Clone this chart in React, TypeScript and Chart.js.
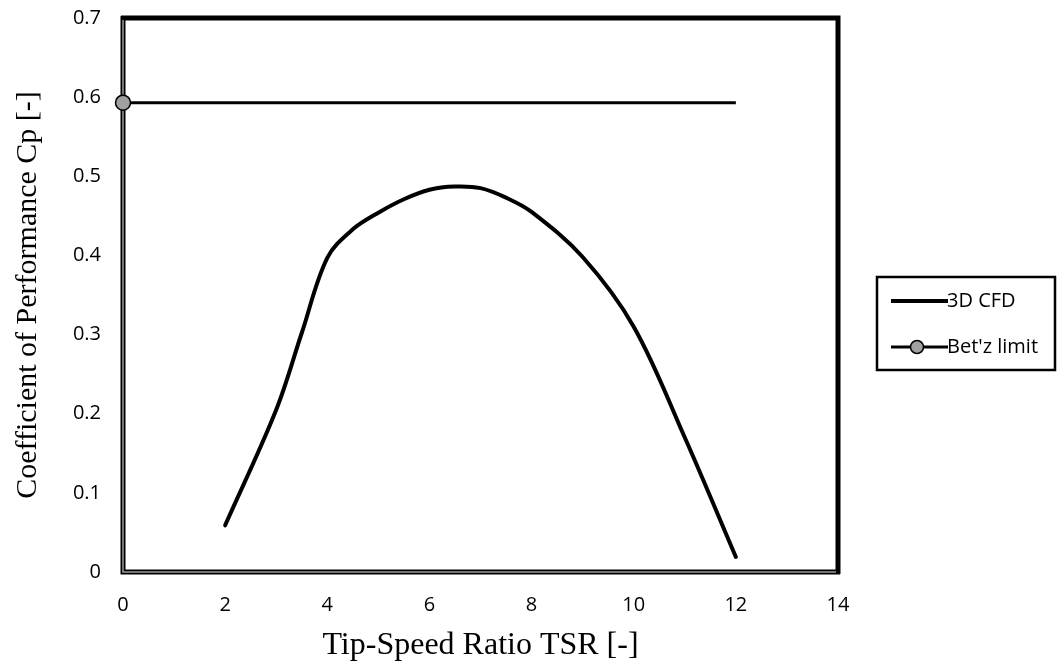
import React, { useEffect, useRef } from "react";
import { Chart, registerables } from "chart.js";

Chart.register(...registerables);

const tsr = [2, 3, 3.5, 4, 4.5, 5, 5.5, 6, 6.5, 7, 7.5, 8, 9, 10, 11, 12];
const cfdCp = [0.059, 0.205, 0.302, 0.397, 0.433, 0.454, 0.471, 0.483, 0.487, 0.485, 0.473, 0.455, 0.398, 0.31, 0.17, 0.019];
const betzX = [0, 12];
const betzY = [0.593, 0.593];
const xTicks = [0, 2, 4, 6, 8, 10, 12, 14];
const yTicks = [0, 0.1, 0.2, 0.3, 0.4, 0.5, 0.6, 0.7];
const seriesNames = ["3D CFD", "Bet'z limit"];

const framePlugin = {
  id: "frame",
  beforeDatasetsDraw(chart: any) {
    const { ctx, chartArea: a } = chart;
    ctx.save();
    ctx.lineCap = "butt";
    ctx.strokeStyle = "#000";
    ctx.lineWidth = 5;
    ctx.beginPath();
    ctx.moveTo(a.left - 2, a.top);
    ctx.lineTo(a.right, a.top);
    ctx.lineTo(a.right, a.bottom + 2);
    ctx.stroke();
    ctx.lineWidth = 5;
    ctx.beginPath();
    ctx.moveTo(a.left, a.top - 2);
    ctx.lineTo(a.left, a.bottom);
    ctx.lineTo(a.right + 2, a.bottom);
    ctx.stroke();
    ctx.strokeStyle = "#9a9a9a";
    ctx.lineWidth = 1.5;
    ctx.beginPath();
    ctx.moveTo(a.left, a.top + 2);
    ctx.lineTo(a.left, a.bottom);
    ctx.lineTo(a.right - 2, a.bottom);
    ctx.stroke();
    ctx.restore();
  },
};

const legendPlugin = {
  id: "customLegend",
  afterDraw(chart: any) {
    const { ctx } = chart;
    const x0 = 877, y0 = 277, w = 178, h = 93;
    ctx.save();
    ctx.strokeStyle = "#000";
    ctx.lineWidth = 2.5;
    ctx.strokeRect(x0, y0, w, h);
    ctx.font = "20px 'Open Sans', 'Noto Sans', sans-serif";
    ctx.textBaseline = "middle";
    ctx.fillStyle = "#000";
    ctx.lineWidth = 4;
    ctx.beginPath();
    ctx.moveTo(891, 301);
    ctx.lineTo(948, 301);
    ctx.stroke();
    ctx.fillText(seriesNames[0], 947, 301);
    ctx.lineWidth = 3;
    ctx.beginPath();
    ctx.moveTo(891, 347);
    ctx.lineTo(948, 347);
    ctx.stroke();
    ctx.beginPath();
    ctx.arc(917, 347, 6.5, 0, Math.PI * 2);
    ctx.fillStyle = "#a0a0a0";
    ctx.fill();
    ctx.lineWidth = 1.5;
    ctx.stroke();
    ctx.fillStyle = "#000";
    ctx.fillText(seriesNames[1], 947, 347);
    ctx.restore();
  },
};

export default function App() {
  const ref = useRef<HTMLCanvasElement | null>(null);
  useEffect(() => {
    if (!ref.current) return;
    const chart = new Chart(ref.current, {
      type: "line",
      data: {
        datasets: [
          {
            label: seriesNames[0],
            data: tsr.map((x, i) => ({ x, y: cfdCp[i] })),
            borderColor: "#000",
            borderWidth: 4,
            pointRadius: 0,
            tension: 0.35,
            borderCapStyle: "round",
            fill: false,
          },
          {
            label: seriesNames[1],
            data: betzX.map((x, i) => ({ x, y: betzY[i] })),
            borderColor: "#000",
            borderWidth: 3,
            pointRadius: [7.5, 0],
            pointBackgroundColor: "#a0a0a0",
            pointBorderColor: "#000",
            pointBorderWidth: 1.5,
            clip: false as any,
            fill: false,
          },
        ],
      },
      options: {
        animation: false,
        responsive: true,
        maintainAspectRatio: false,
        layout: { padding: { top: 18, right: 223, left: 0, bottom: 0 } },
        plugins: { legend: { display: false }, tooltip: { enabled: false } },
        scales: {
          x: {
            type: "linear",
            min: 0,
            max: 14,
            afterBuildTicks: (s: any) => { s.ticks = xTicks.map((v) => ({ value: v })); },
            afterFit: (s: any) => { s.height = 90; s.paddingLeft = 0; s.paddingRight = 0; },
            grid: { display: false, drawTicks: false },
            border: { display: false },
            ticks: { color: "#000", padding: 21, font: { size: 20, family: "'Open Sans', 'Noto Sans', sans-serif" } },
            title: {
              display: true,
              text: "Tip-Speed Ratio TSR [-]",
              color: "#000",
              font: { size: 32, family: "'Liberation Serif', serif", lineHeight: 1.0 },
              padding: { top: 17, bottom: 0 },
            },
          },
          y: {
            type: "linear",
            min: 0,
            max: 0.7,
            afterBuildTicks: (s: any) => { s.ticks = yTicks.map((v) => ({ value: v })); },
            afterFit: (s: any) => { s.width = 123; s.paddingTop = 0; s.paddingBottom = 0; },
            grid: { display: false, drawTicks: false },
            border: { display: false },
            ticks: { color: "#000", padding: 22, font: { size: 20, family: "'Open Sans', 'Noto Sans', sans-serif" } },
            title: {
              display: true,
              text: "Coefficient of Performance Cp [-]",
              color: "#000",
              font: { size: 30, family: "'Liberation Serif', serif" },
              padding: { bottom: 0, top: 10 },
            },
          },
        },
      },
      plugins: [framePlugin, legendPlugin],
    });
    return () => chart.destroy();
  }, []);
  return (
    <div style={{ position: "fixed", left: 0, top: 0, width: 1061, height: 662, background: "#fff" }}>
      <canvas ref={ref} />
    </div>
  );
}
